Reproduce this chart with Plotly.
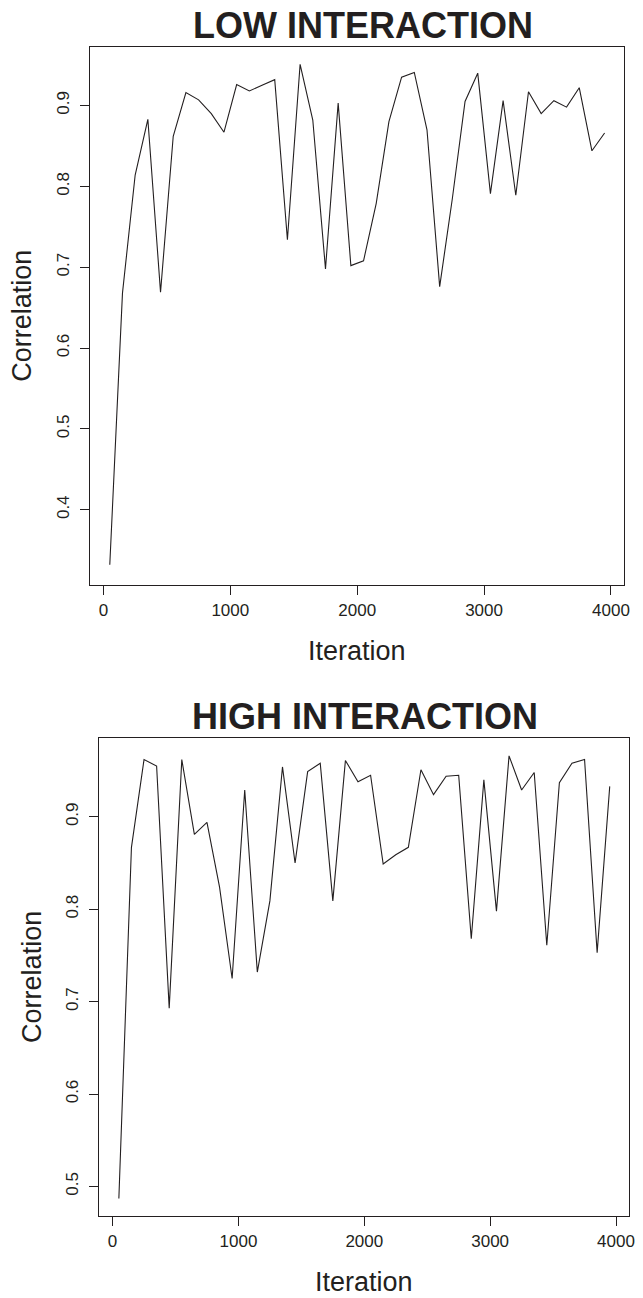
import plotly.graph_objects as go

W, H = 643, 1298

iterations = list(range(50, 4000, 100))

low_interaction = [0.332, 0.668, 0.814, 0.883, 0.669, 0.862, 0.916, 0.907, 0.890, 0.867,
                   0.926, 0.918, 0.925, 0.932, 0.734, 0.951, 0.882, 0.698, 0.903, 0.702,
                   0.708, 0.779, 0.880, 0.935, 0.941, 0.870, 0.676, 0.785, 0.905, 0.940,
                   0.791, 0.906, 0.789, 0.917, 0.890, 0.906, 0.898, 0.922, 0.844, 0.866]

high_interaction = [0.487, 0.867, 0.962, 0.955, 0.693, 0.962, 0.881, 0.894, 0.824, 0.725,
                    0.929, 0.732, 0.809, 0.954, 0.850, 0.949, 0.958, 0.809, 0.961, 0.938,
                    0.945, 0.849, 0.859, 0.867, 0.951, 0.924, 0.944, 0.945, 0.768, 0.940,
                    0.798, 0.966, 0.929, 0.948, 0.761, 0.937, 0.958, 0.962, 0.753, 0.933]

titles = ["LOW INTERACTION", "HIGH INTERACTION"]
x_ticks = [0, 1000, 2000, 3000, 4000]
y_ticks_low = [0.4, 0.5, 0.6, 0.7, 0.8, 0.9]
y_ticks_high = [0.5, 0.6, 0.7, 0.8, 0.9]

INK = "#231f20"
FONT = "Liberation Sans"

fig = go.Figure()
fig.add_trace(go.Scatter(x=iterations, y=low_interaction, mode="lines",
                         line=dict(color=INK, width=1.1), xaxis="x", yaxis="y",
                         showlegend=False))
fig.add_trace(go.Scatter(x=iterations, y=high_interaction, mode="lines",
                         line=dict(color=INK, width=1.1), xaxis="x2", yaxis="y2",
                         showlegend=False))

def px_x(v):
    return v / W

def px_y(v):
    return 1 - v / H

# panel boxes in pixels: (left, top, right, bottom)
top_box = (90.7, 47.3, 629.3, 585.0)
bot_box = (100.0, 738.3, 634.3, 1216.0)
title_centers = (366, 367.5)

axis_common = dict(showline=True, mirror=True, linecolor=INK, linewidth=1.4,
                   ticks="outside", ticklen=9, tickwidth=1.4, tickcolor=INK,
                   showgrid=False, zeroline=False,
                   tickfont=dict(family=FONT, size=17, color=INK))

fig.update_layout(
    width=W, height=H,
    margin=dict(l=0, r=0, t=0, b=0),
    paper_bgcolor="white", plot_bgcolor="white",
    xaxis=dict(domain=[px_x(top_box[0]), px_x(top_box[2])], anchor="y",
               range=[-106, 4106], tickvals=x_ticks, **axis_common),
    yaxis=dict(domain=[px_y(top_box[3]), px_y(top_box[1])], anchor="x",
               range=[0.307, 0.972], tickvals=y_ticks_low, tickangle=-90,
               ticklabelstandoff=4, **axis_common),
    xaxis2=dict(domain=[px_x(bot_box[0]), px_x(bot_box[2])], anchor="y2",
                range=[-106, 4106], tickvals=x_ticks, **axis_common),
    yaxis2=dict(domain=[px_y(bot_box[3]), px_y(bot_box[1])], anchor="x2",
                range=[0.468, 0.985], tickvals=y_ticks_high, tickangle=-90,
                ticklabelstandoff=4, **axis_common),
)

annotations = []
for box, title, cx in ((top_box, titles[0], title_centers[0]),
                       (bot_box, titles[1], title_centers[1])):
    left, top, right, bottom = box
    annotations.append(dict(text="<b>" + title + "</b>", x=px_x(cx), y=px_y(top - 22),
                            xref="paper", yref="paper", showarrow=False,
                            xanchor="center", yanchor="middle",
                            font=dict(family=FONT, size=36, color=INK)))
    annotations.append(dict(text="Iteration", x=px_x((left + right) / 2), y=px_y(bottom + 66),
                            xref="paper", yref="paper", showarrow=False,
                            xanchor="center", yanchor="middle",
                            font=dict(family=FONT, size=27, color=INK)))
    annotations.append(dict(text="Correlation", x=px_x(left - 68), y=px_y((top + bottom) / 2),
                            xref="paper", yref="paper", showarrow=False, textangle=-90,
                            xanchor="center", yanchor="middle",
                            font=dict(family=FONT, size=27, color=INK)))
fig.update_layout(annotations=annotations)

fig.write_html("out.html")
